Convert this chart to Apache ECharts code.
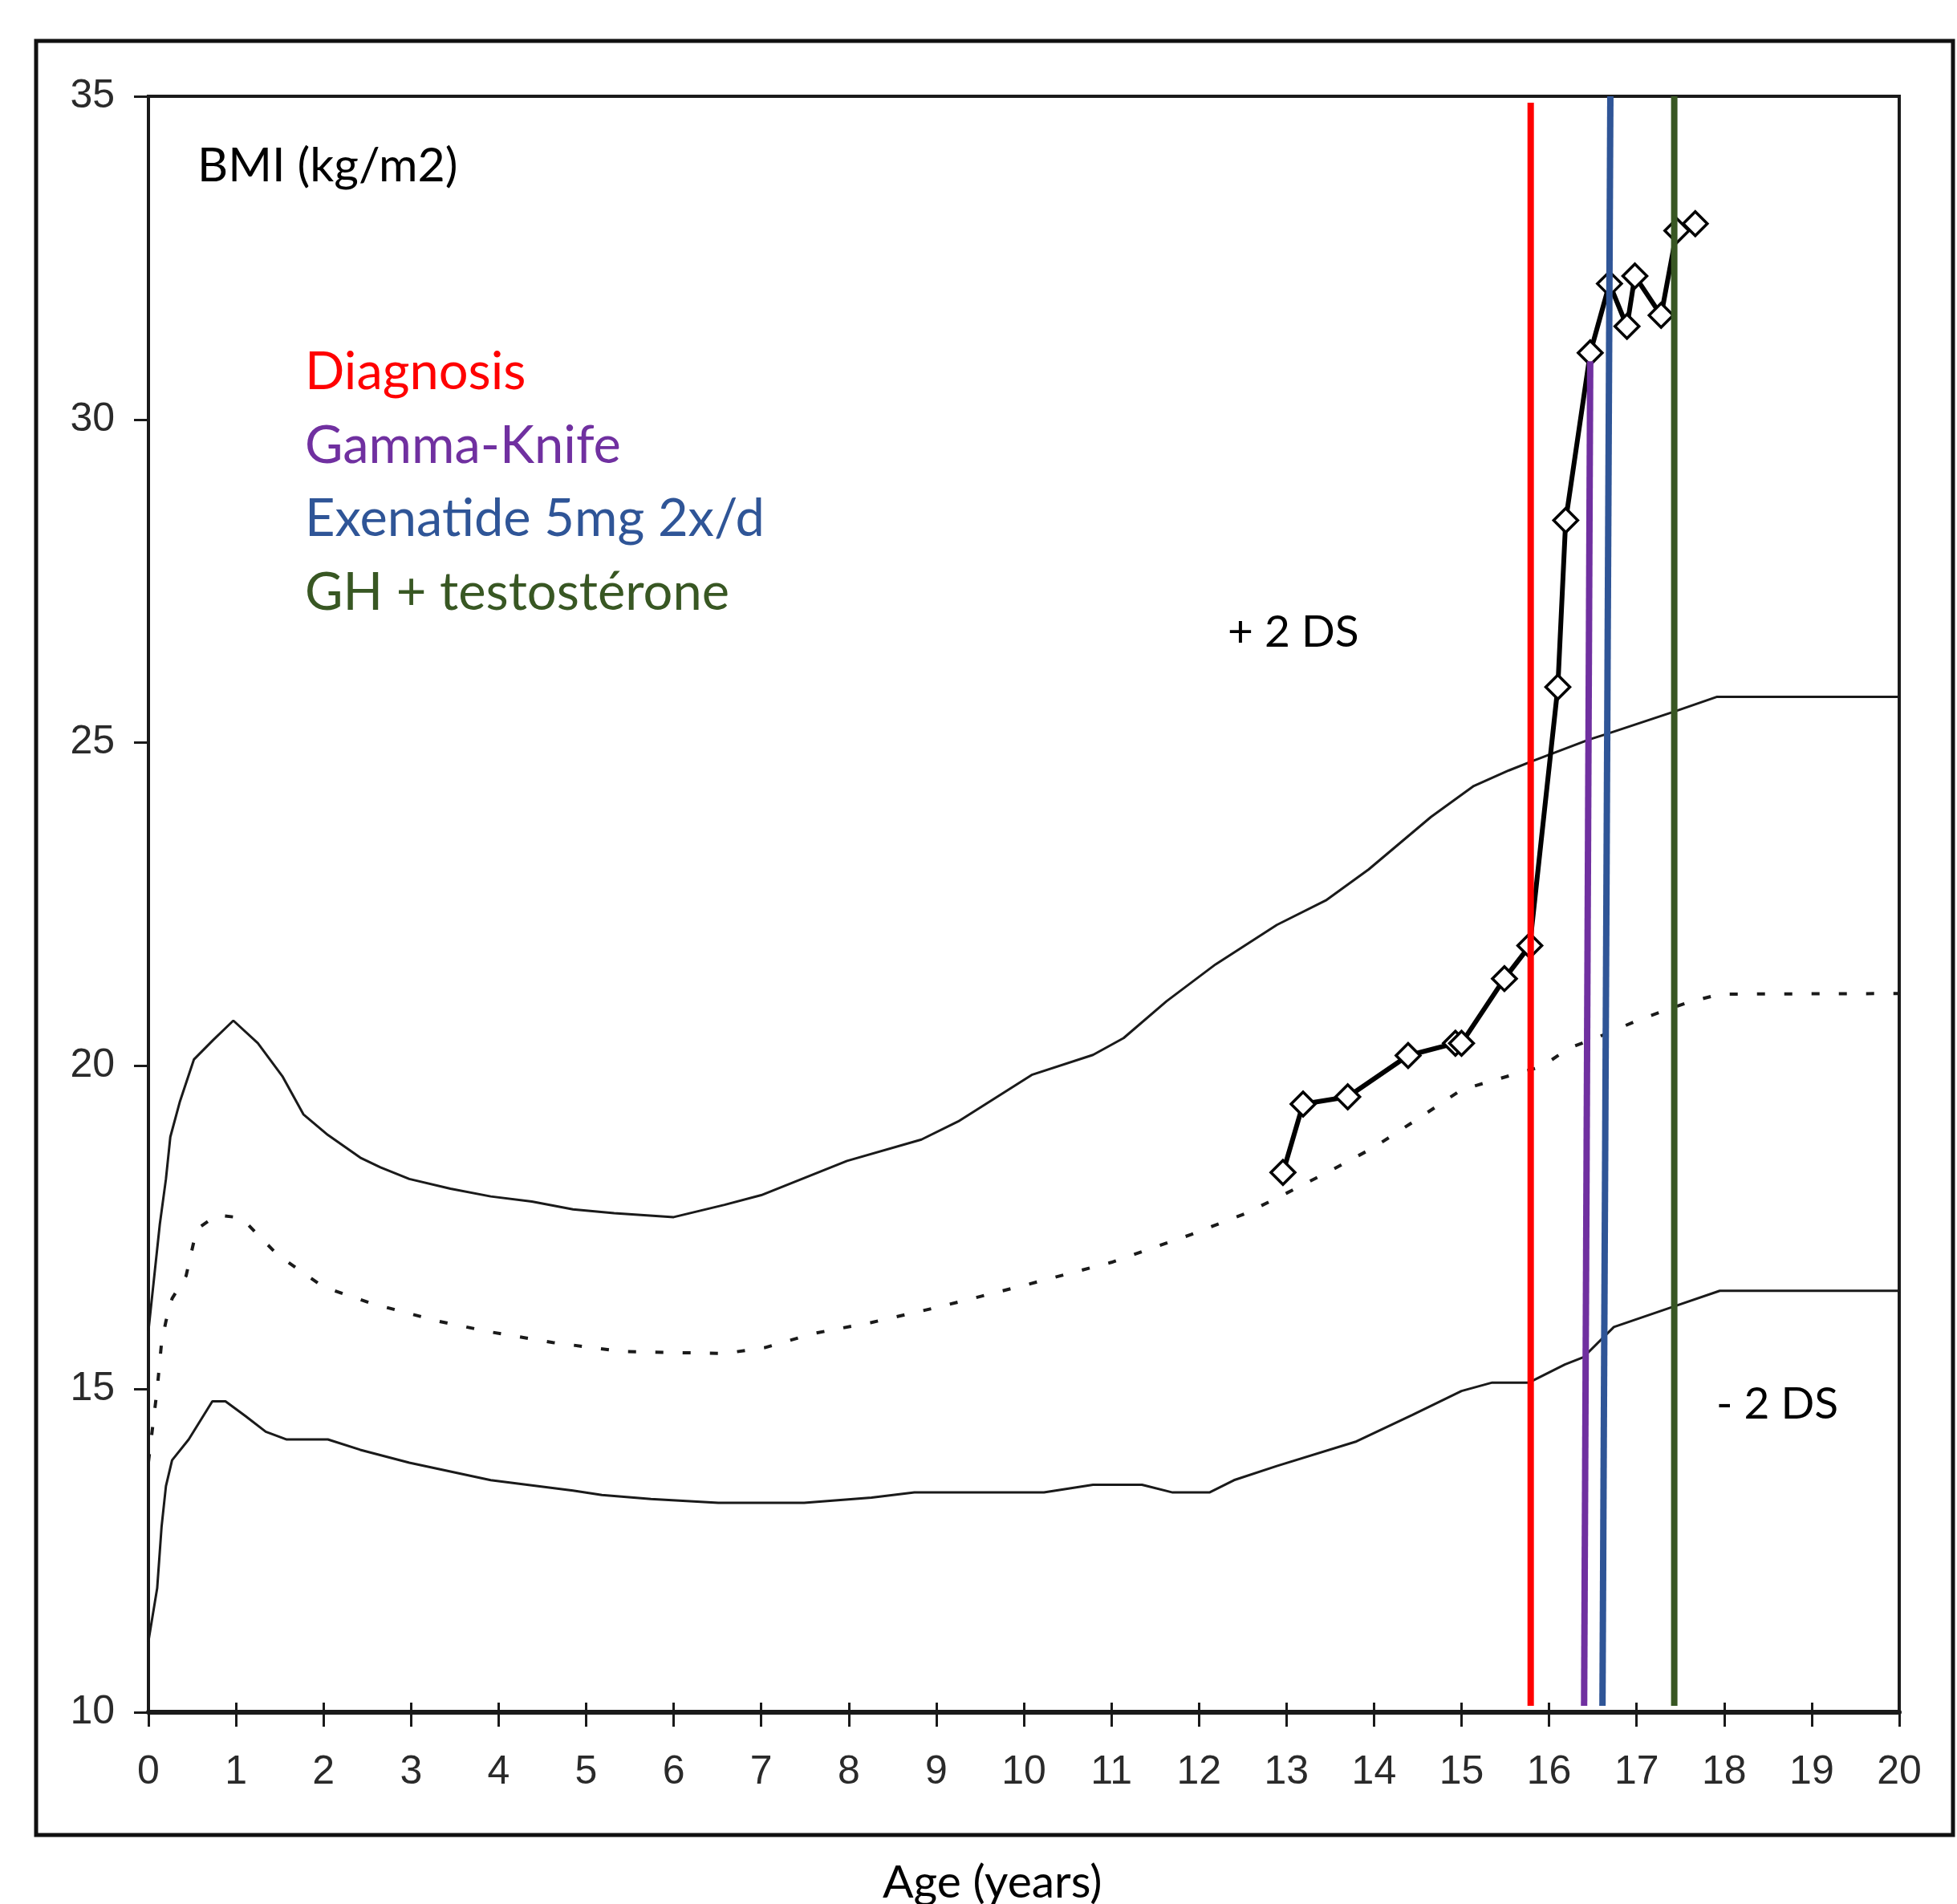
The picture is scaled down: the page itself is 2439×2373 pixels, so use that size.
<!DOCTYPE html>
<html>
<head>
<meta charset="utf-8">
<script src="https://cdn.jsdelivr.net/npm/echarts@6/dist/echarts.min.js"></script>
<style>
html,body{margin:0;padding:0;background:#fff;}
#chart{width:2439px;height:2373px;}
</style>
</head>
<body>
<div id="chart"></div>
<script>
// ---- Data ----
const upperAges = [0, 0.13, 0.2, 0.25, 0.36, 0.52, 0.74, 0.97, 1.25, 1.53, 1.77, 2.05, 2.42, 2.65, 2.98, 3.45, 3.91, 4.38, 4.85, 5.32, 6.0, 6.58, 7.0, 7.98, 8.83, 9.25, 10.09, 10.79, 11.14, 11.63, 12.19, 12.89, 13.45, 13.94, 14.65, 15.14, 15.54, 15.82, 16.46, 16.67, 17.43, 17.92, 18.29, 20.2];
const upperBMI  = [15.9, 17.55, 18.25, 18.9, 19.45, 20.1, 20.4, 20.7, 20.35, 19.84, 19.25, 18.93, 18.58, 18.43, 18.25, 18.1, 17.98, 17.9, 17.78, 17.72, 17.66, 17.85, 18.0, 18.53, 18.86, 19.14, 19.86, 20.17, 20.43, 21.0, 21.57, 22.18, 22.56, 23.04, 23.85, 24.33, 24.57, 24.72, 25.05, 25.14, 25.48, 25.71, 25.71, 25.71];

const medianAges = [0, 0.1, 0.15, 0.2, 0.27, 0.43, 0.55, 0.78, 1.06, 1.48, 2.0, 2.56, 3.31, 3.92, 4.62, 5.41, 6.58, 7.04, 7.6, 8.26, 9.0, 10.02, 11.0, 11.91, 12.54, 13.0, 13.52, 14.0, 14.49, 15.0, 15.53, 15.92, 16.22, 16.57, 17.04, 17.56, 17.95, 20.2];
const medianBMI  = [13.87, 15.0, 15.72, 16.05, 16.4, 16.75, 17.47, 17.69, 17.65, 17.07, 16.58, 16.32, 16.05, 15.88, 15.72, 15.58, 15.55, 15.64, 15.86, 16.03, 16.26, 16.61, 16.96, 17.39, 17.72, 18.03, 18.39, 18.74, 19.17, 19.63, 19.84, 19.99, 20.27, 20.45, 20.72, 20.97, 21.11, 21.12];

const lowerAges = [0, 0.1, 0.15, 0.2, 0.27, 0.46, 0.73, 0.88, 1.11, 1.34, 1.58, 2.05, 2.42, 2.98, 3.91, 4.85, 5.18, 5.74, 6.51, 7.49, 8.26, 8.75, 10.23, 10.79, 11.35, 11.7, 12.12, 12.4, 12.89, 13.8, 14.44, 15.0, 15.35, 15.77, 16.18, 16.39, 16.74, 17.43, 17.95, 20.2];
const lowerBMI  = [11.1, 11.92, 12.87, 13.5, 13.9, 14.22, 14.81, 14.81, 14.58, 14.34, 14.22, 14.22, 14.06, 13.86, 13.59, 13.43, 13.36, 13.3, 13.24, 13.24, 13.32, 13.4, 13.4, 13.52, 13.52, 13.4, 13.4, 13.59, 13.81, 14.19, 14.6, 14.97, 15.1, 15.1, 15.38, 15.49, 15.96, 16.28, 16.52, 16.52];

const patientAges = [12.96, 13.19, 13.70, 14.39, 14.93, 15.00, 15.49, 15.78, 16.10, 16.19, 16.47, 16.69, 16.89, 16.98, 17.28, 17.46, 17.67];
const patientBMI  = [18.35, 19.41, 19.52, 20.16, 20.35, 20.35, 21.35, 21.86, 25.86, 28.44, 31.03, 32.10, 31.44, 32.22, 31.61, 32.92, 33.03];

const eventNames      = ['Diagnosis', 'Gamma-Knife', 'Exenatide 5mg 2x/d', 'GH + testostérone'];
const eventAgeTop     = [15.79, 16.47, 16.70, 17.43];
const eventAgeBottom  = [15.79, 16.40, 16.61, 17.43];
const eventBMITop     = [34.9, 30.9, 35.0, 35.0];
const eventBMIBottom  = [10.1, 10.1, 10.1, 10.1];

const curveLabels = ['+ 2 DS', '- 2 DS'];
const yAxisTitle = 'BMI (kg/m2)';
const xAxisTitle = 'Age (years)';

// ---- Styles ----
const eventColors = ['#FF0000', '#7030A0', '#2F5597', '#385723'];
const ink = '#1a1a1a';
const textFont = 'Lato, "Noto Sans", sans-serif';

function pairs(xs, ys) { return xs.map((x, i) => [x, ys[i]]); }

const chart = echarts.init(document.getElementById('chart'), null, {renderer: 'canvas'});

const series = [
  {type: 'line', name: '+2DS', xAxisIndex: 0, data: pairs(upperAges, upperBMI), showSymbol: false, clip: false,
   lineStyle: {color: ink, width: 3}, z: 2},
  {type: 'line', name: 'median', xAxisIndex: 0, data: pairs(medianAges, medianBMI), showSymbol: false, clip: false,
   lineStyle: {color: ink, width: 4, type: [10, 24]}, z: 2},
  {type: 'line', name: '-2DS', xAxisIndex: 0, data: pairs(lowerAges, lowerBMI), showSymbol: false, clip: false,
   lineStyle: {color: ink, width: 3}, z: 2},
  {type: 'line', name: 'patient', xAxisIndex: 0, data: pairs(patientAges, patientBMI), symbol: 'diamond', symbolSize: [30, 30],
   showSymbol: true, lineStyle: {color: '#000', width: 6},
   itemStyle: {color: '#fff', borderColor: '#000', borderWidth: 3.5}, z: 3}
];
eventNames.forEach((n, i) => {
  series.push({type: 'line', name: n, xAxisIndex: 0,
    data: [[eventAgeTop[i], eventBMITop[i]], [eventAgeBottom[i], eventBMIBottom[i]]],
    showSymbol: false, lineStyle: {color: eventColors[i], width: 8}, z: 5});
});

const legendY = [472, 564, 655, 747];
const graphics = [
  {type: 'rect', shape: {x: 45, y: 51, width: 2389, height: 2236}, style: {fill: 'none', stroke: '#111', lineWidth: 5}, z: 100},
  {type: 'text', left: 246, top: 177, style: {text: yAxisTitle, font: '59px ' + textFont, fill: '#000'}, z: 100},
  {type: 'text', left: 1530, top: 761, style: {text: curveLabels[0], font: '55px ' + textFont, fill: '#000'}, z: 100},
  {type: 'text', left: 2139, top: 1723, style: {text: curveLabels[1], font: '55px ' + textFont, fill: '#000'}, z: 100},
  {type: 'text', left: 1100, top: 2318, style: {text: xAxisTitle, font: '57px ' + textFont, fill: '#000'}, z: 100}
];
eventNames.forEach((n, i) => {
  graphics.push({type: 'text', left: 380, top: legendY[i] - 40, style: {text: n, font: '65px ' + textFont, fill: eventColors[i]}, z: 100});
});

chart.setOption({
  animation: false,
  backgroundColor: '#fff',
  grid: {left: 185, top: 120, right: 72, bottom: 239, show: true, borderColor: ink, borderWidth: 4, backgroundColor: 'transparent'},
  xAxis: [
    {type: 'value', min: 0, max: 20, interval: 1, position: 'bottom',
     axisLine: {show: true, onZero: false, lineStyle: {color: ink, width: 6}},
     axisTick: {show: true, inside: false, length: 18, lineStyle: {color: ink, width: 3}},
     axisLabel: {show: true, margin: 50, color: '#2a2a2a', fontSize: 50, fontFamily: '"Liberation Sans", Arial, sans-serif'},
     splitLine: {show: false}},
    {type: 'value', min: 0, max: 20, interval: 1, position: 'bottom',
     axisLine: {show: false, onZero: false},
     axisTick: {show: true, inside: true, length: 12, lineStyle: {color: ink, width: 3}},
     axisLabel: {show: false}, splitLine: {show: false}}
  ],
  yAxis: {type: 'value', min: 10, max: 35, interval: 5,
     axisLine: {show: true, onZero: false, lineStyle: {color: ink, width: 4}},
     axisTick: {show: true, inside: false, length: 18, lineStyle: {color: ink, width: 3}},
     axisLabel: {show: true, margin: 42, color: '#2a2a2a', fontSize: 50, fontFamily: '"Liberation Sans", Arial, sans-serif'},
     splitLine: {show: false}},
  series: series,
  graphic: graphics
});
</script>
</body>
</html>
